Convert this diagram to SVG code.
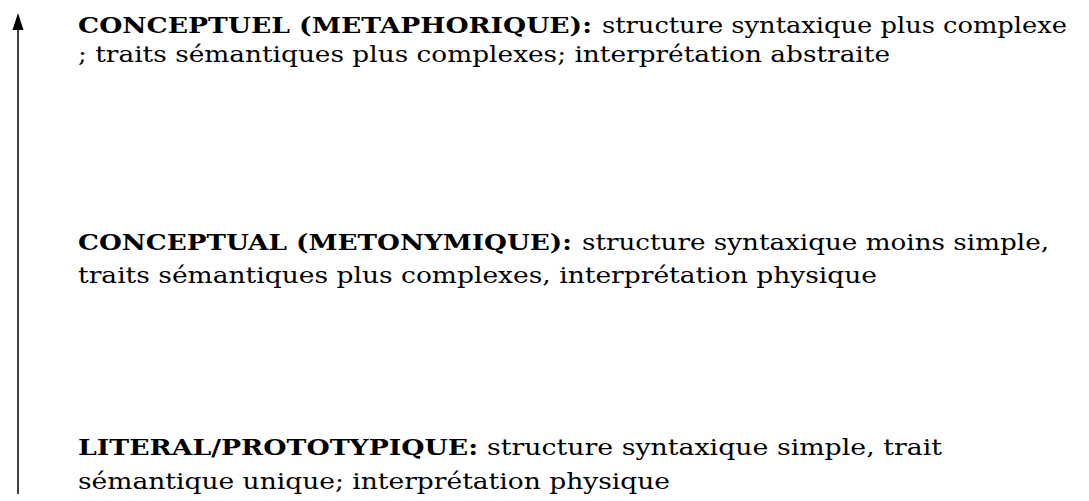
<svg xmlns="http://www.w3.org/2000/svg" width="1089" height="501" viewBox="0 0 1089 501">
  <style>
    text { font-family: "DejaVu Serif", "Liberation Serif", serif; font-size: 22px; fill: #000; }
    .b { font-weight: bold; }
    .axis { stroke: #000; stroke-width: 1.5; fill: none; }
  </style>
  <rect width="1089" height="501" fill="#fff"/>
  <g id="connectors">
    <line class="axis" x1="18" y1="494" x2="18" y2="24"/>
    <path d="M18,13 L12.5,30 L23.5,30 Z" fill="#000"/>
  </g>
  <g id="node-metaphorique">
    <text x="78" y="33"><tspan class="b" textLength="514" lengthAdjust="spacingAndGlyphs">CONCEPTUEL (METAPHORIQUE):</tspan><tspan x="602" textLength="465" lengthAdjust="spacingAndGlyphs">structure syntaxique plus complexe</tspan></text>
    <text x="78" y="62" textLength="812" lengthAdjust="spacingAndGlyphs">; traits sémantiques plus complexes; interprétation abstraite</text>
  </g>
  <g id="node-metonymique">
    <text x="78" y="250"><tspan class="b" textLength="494" lengthAdjust="spacingAndGlyphs">CONCEPTUAL (METONYMIQUE):</tspan><tspan x="582" textLength="467" lengthAdjust="spacingAndGlyphs">structure syntaxique moins simple,</tspan></text>
    <text x="78" y="283" textLength="799" lengthAdjust="spacingAndGlyphs">traits sémantiques plus complexes, interprétation physique</text>
  </g>
  <g id="node-literal">
    <text x="78" y="455"><tspan class="b" textLength="400" lengthAdjust="spacingAndGlyphs">LITERAL/PROTOTYPIQUE:</tspan><tspan x="487" textLength="455" lengthAdjust="spacingAndGlyphs">structure syntaxique simple, trait</tspan></text>
    <text x="78" y="489" textLength="592" lengthAdjust="spacingAndGlyphs">sémantique unique; interprétation physique</text>
  </g>
</svg>
